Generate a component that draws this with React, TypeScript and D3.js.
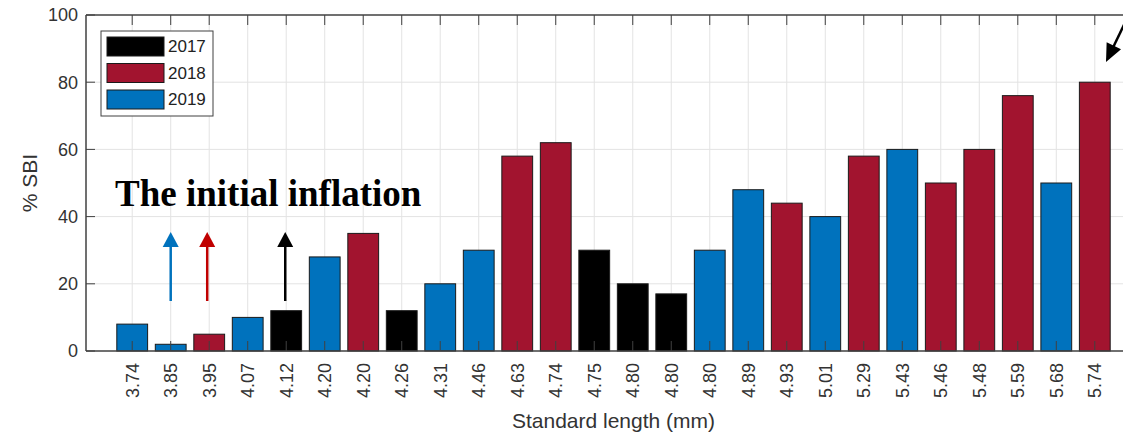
import React from "react";
import * as d3 from "d3";

const categories = ["3.74","3.85","3.95","4.07","4.12","4.20","4.20","4.26","4.31","4.46","4.63","4.74","4.75","4.80","4.80","4.80","4.89","4.93","5.01","5.29","5.43","5.46","5.48","5.59","5.68","5.74"];
const values = [8,2,5,10,12,28,35,12,20,30,58,62,30,20,17,30,48,44,40,58,60,50,60,76,50,80];
const years = ["2019","2019","2018","2019","2017","2019","2018","2017","2019","2019","2018","2018","2017","2017","2017","2019","2019","2018","2019","2018","2019","2018","2018","2018","2019","2018"];
const legendYears = ["2017","2018","2019"];
const yTicks = [0,20,40,60,80,100];

const colors: Record<string,string> = { "2017": "#000000", "2018": "#A2142F", "2019": "#0072BD" };

const W = 1123, H = 433;
const left = 86, right = 1141, top = 15, bottom = 351;
const axisColor = "#404040";
const font = "'Liberation Sans', Arial, Helvetica, sans-serif";

function Arrow({ x1, y1, x2, y2, color, head = 15, hw = 8, sw = 2.5 }: any) {
  const dx = x2 - x1, dy = y2 - y1;
  const len = Math.hypot(dx, dy);
  const ux = dx / len, uy = dy / len;
  const bx = x2 - ux * head, by = y2 - uy * head;
  const px = -uy, py = ux;
  const pts = `${x2},${y2} ${bx + px * hw},${by + py * hw} ${bx - px * hw},${by - py * hw}`;
  return (
    <g>
      <line x1={x1} y1={y1} x2={bx + ux * 1} y2={by + uy * 1} stroke={color} strokeWidth={sw} />
      <polygon points={pts} fill={color} />
    </g>
  );
}

export default function App() {
  const x = d3.scaleLinear().domain([-0.2, 27.2]).range([left, right]);
  const y = d3.scaleLinear().domain([0, 100]).range([bottom, top]);
  const bw = 0.8 * (x(1) - x(0));
  const idx = d3.range(categories.length);

  return (
    <svg width={W} height={H} style={{ position: "absolute", left: 0, top: 0, background: "#fff" }}>
      <rect x={0} y={0} width={W} height={H} fill="#fff" />
      {/* grid */}
      {idx.map(i => (
        <line key={"gx" + i} x1={x(i + 1)} x2={x(i + 1)} y1={top} y2={bottom} stroke="#e3e3e3" strokeWidth={1} />
      ))}
      {yTicks.slice(1, -1).map(t => (
        <line key={"gy" + t} x1={left} x2={right} y1={y(t)} y2={y(t)} stroke="#e3e3e3" strokeWidth={1} />
      ))}
      {/* bars */}
      {idx.map(i => (
        <rect key={"b" + i} x={x(i + 1) - bw / 2} y={y(values[i])} width={bw} height={y(0) - y(values[i])}
          fill={colors[years[i]]} stroke="#1a1a1a" strokeWidth={1} />
      ))}
      {/* ticks */}
      {idx.map(i => (
        <g key={"t" + i}>
          <line x1={x(i + 1)} x2={x(i + 1)} y1={bottom} y2={bottom - 10} stroke={axisColor} strokeWidth={1} />
          <line x1={x(i + 1)} x2={x(i + 1)} y1={top} y2={top + 10} stroke={axisColor} strokeWidth={1} />
        </g>
      ))}
      {yTicks.map(t => (
        <line key={"yt" + t} x1={left} x2={left + 9} y1={y(t)} y2={y(t)} stroke={axisColor} strokeWidth={1} />
      ))}
      {/* axes */}
      <line x1={left} x2={right} y1={top} y2={top} stroke={axisColor} strokeWidth={1.5} />
      <line x1={left} x2={right} y1={bottom} y2={bottom} stroke={axisColor} strokeWidth={1.5} />
      <line x1={left} x2={left} y1={top} y2={bottom} stroke={axisColor} strokeWidth={1.5} />
      {/* y tick labels */}
      {yTicks.map(t => (
        <text key={"yl" + t} x={left - 8} y={y(t)} dy="0.35em" textAnchor="end" fontFamily={font} fontSize={18} fill="#333">{t}</text>
      ))}
      {/* x tick labels */}
      {idx.map(i => (
        <text key={"xl" + i} transform={`translate(${x(i + 1)},${bottom + 12}) rotate(-90)`} dy="0.35em" textAnchor="end"
          fontFamily={font} fontSize={18} fill="#333">{categories[i]}</text>
      ))}
      <text x={(left + right) / 2} y={428} textAnchor="middle" fontFamily={font} fontSize={21} fill="#333">Standard length (mm)</text>
      <text transform={`translate(37,${(top + bottom) / 2}) rotate(-90)`} textAnchor="middle" fontFamily={font} fontSize={21} fill="#333">% SBI</text>
      {/* legend */}
      <rect x={101} y={31} width={112} height={85} fill="#fff" stroke={axisColor} strokeWidth={1} />
      {legendYears.map((yr, k) => (
        <g key={"lg" + yr}>
          <rect x={107} y={37 + k * 26.5} width={57} height={19} fill={colors[yr]} stroke="#1a1a1a" strokeWidth={1} />
          <text x={168} y={37 + k * 26.5 + 9.5} dy="0.35em" fontFamily={font} fontSize={17} fill="#222">{yr}</text>
        </g>
      ))}
      {/* annotations */}
      <text x={115} y={206} fontFamily="'Liberation Serif', 'Times New Roman', serif" fontWeight="bold" fontSize={37} fill="#000">The initial inflation</text>
      <Arrow x1={x(2)} y1={301} x2={x(2)} y2={232} color="#0072BD" />
      <Arrow x1={x(3) - 2} y1={301} x2={x(3) - 2} y2={232} color="#C00000" />
      <Arrow x1={x(5) - 1} y1={301} x2={x(5) - 1} y2={232} color="#000000" />
      <Arrow x1={1136} y1={0} x2={1106} y2={62} color="#000000" head={18} hw={8} sw={2.5} />
    </svg>
  );
}
